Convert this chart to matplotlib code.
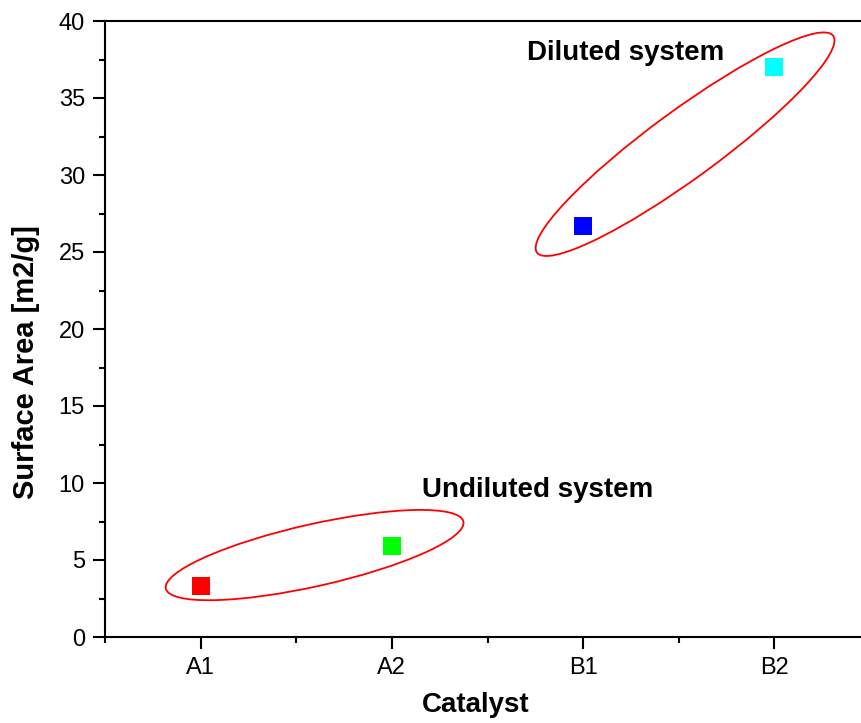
import matplotlib.pyplot as plt
from matplotlib.patches import Ellipse
from matplotlib.transforms import ScaledTranslation
from matplotlib.ticker import MultipleLocator, FixedLocator

plt.rcParams['font.family'] = ['Liberation Sans', 'DejaVu Sans']

catalysts = ['A1', 'A2', 'B1', 'B2']
surface_area = [3.3, 5.9, 26.7, 37.0]
colors = ['#ff0000', '#00ff00', '#0000ff', '#00ffff']

fig = plt.figure(figsize=(8.61, 7.23), dpi=100)
ax = fig.add_axes([105/861, 1 - 637/723, 765/861, 616/723])

xs = list(range(len(catalysts)))
for xi, yi, c in zip(xs, surface_area, colors):
    ax.plot(xi, yi, 's', color=c, markersize=13.5, markeredgewidth=0)

# group ellipses: centre in data coords, axes in inches, angle on screen
def group_ellipse(cx, cy, w, h, angle):
    tr = fig.dpi_scale_trans + ScaledTranslation(cx, cy, ax.transData)
    e = Ellipse((0, 0), w, h, angle=angle, transform=tr,
                fill=False, edgecolor='#ff0000', linewidth=1.3)
    ax.add_patch(e)

group_ellipse(0.596, 5.32, 3.05, 0.62, 12.7)
group_ellipse(2.533, 32.0, 3.67, 0.68, 36.2)

ax.text(1.709, 37.47, 'Diluted system', fontsize=20, fontweight='bold',
        ha='left', va='baseline')
ax.text(1.160, 9.09, 'Undiluted system', fontsize=20, fontweight='bold',
        ha='left', va='baseline')

ax.set_xlim(-0.5, 3.5)
ax.set_ylim(0, 40)
ax.set_xticks(xs)
ax.set_xticklabels(catalysts)
ax.xaxis.set_minor_locator(FixedLocator([-0.5, 0.5, 1.5, 2.5, 3.5]))
ax.yaxis.set_major_locator(MultipleLocator(5))
ax.yaxis.set_minor_locator(MultipleLocator(2.5))

for s in ['left', 'bottom', 'top']:
    ax.spines[s].set_linewidth(1.5)
ax.spines['right'].set_visible(False)

ax.tick_params(which='major', direction='out', length=8.5, width=1.5,
               labelsize=17)
ax.tick_params(which='minor', direction='out', length=4.5, width=1.5)
ax.tick_params(axis='x', which='major', pad=6)
ax.tick_params(axis='y', which='major', pad=6)

ax.set_xlabel('Catalyst', fontsize=20, fontweight='bold')
ax.set_ylabel('Surface Area [m2/g]', fontsize=21, fontweight='bold')
ax.xaxis.set_label_coords(0.485, -0.09)
ax.yaxis.set_label_coords(-0.085, 0.4456)

fig.savefig('out.png', dpi=100)
